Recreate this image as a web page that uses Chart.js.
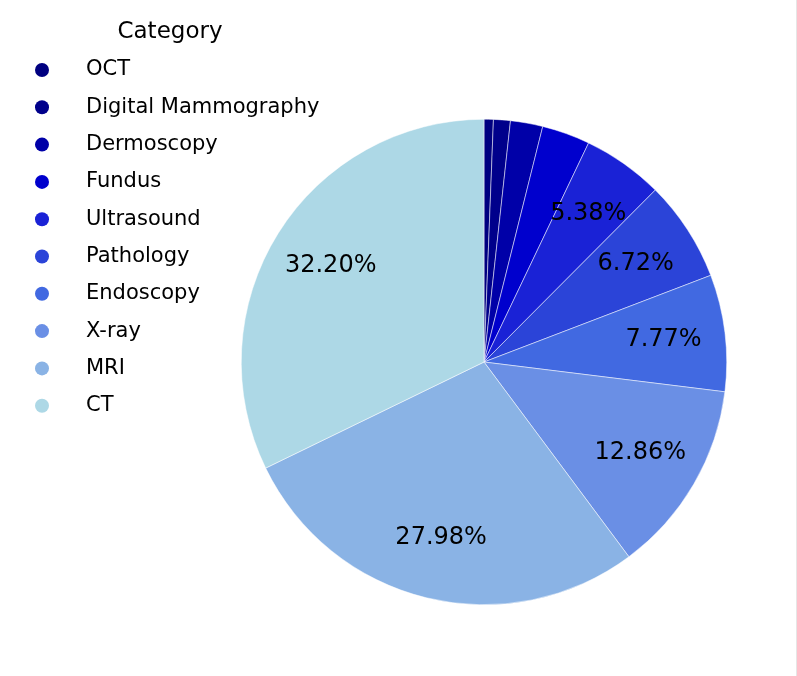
<!DOCTYPE html>
<html>
<head>
<meta charset="utf-8">
<script src="https://cdn.jsdelivr.net/npm/chart.js@4.4.1/dist/chart.umd.min.js"></script>
<style>
  html, body { margin: 0; padding: 0; background: #ffffff; }
  #wrap { position: relative; width: 797px; height: 676px; }
</style>
</head>
<body>
<div id="wrap"><canvas id="c" width="797" height="676"></canvas></div>
<script>
const categories = ["OCT", "Digital Mammography", "Dermoscopy", "Fundus", "Ultrasound", "Pathology", "Endoscopy", "X-ray", "MRI", "CT"];
const shares = [0.62, 1.12, 2.15, 3.20, 5.38, 6.72, 7.77, 12.86, 27.98, 32.20];
const sliceColors = ["#000080", "#00008B", "#0000A8", "#0000CD", "#1A22D6", "#2B44D8", "#4169E1", "#6A8FE5", "#8AB3E5", "#ADD8E6"];
const legendTitle = "Category";
const labelThreshold = 5;

const FONT = '"Comic Sans MS", "DejaVu Sans", sans-serif';

const pctLabels = {
  id: 'pctLabels',
  afterDatasetsDraw(chart) {
    const ctx = chart.ctx;
    const meta = chart.getDatasetMeta(0);
    const data = chart.data.datasets[0].data;
    ctx.save();
    ctx.font = '24px ' + FONT;
    ctx.fillStyle = '#000';
    ctx.textAlign = 'center';
    ctx.textBaseline = 'middle';
    meta.data.forEach((arc, i) => {
      if (data[i] < labelThreshold) return;
      const p = arc.getProps(['x', 'y', 'startAngle', 'endAngle', 'outerRadius'], true);
      const mid = (p.startAngle + p.endAngle) / 2;
      const r = p.outerRadius * 0.745;
      ctx.fillText(data[i].toFixed(2) + '%', p.x + Math.cos(mid) * r, p.y + Math.sin(mid) * r);
    });
    ctx.restore();
  }
};

const sideLegend = {
  id: 'sideLegend',
  afterDraw(chart) {
    const ctx = chart.ctx;
    const ds = chart.data.datasets[0];
    ctx.save();
    ctx.fillStyle = '#000';
    ctx.textBaseline = 'middle';
    ctx.font = '23px ' + FONT;
    ctx.textAlign = 'center';
    ctx.fillText(legendTitle, 170, 32);
    ctx.font = '21px ' + FONT;
    ctx.textAlign = 'left';
    chart.data.labels.forEach((lab, i) => {
      const y = 70 + i * 37.3;
      ctx.beginPath();
      ctx.arc(42, y, 7, 0, Math.PI * 2);
      ctx.fillStyle = ds.backgroundColor[i];
      ctx.fill();
      ctx.fillStyle = '#000';
      ctx.fillText(lab, 86, y);
    });
    ctx.strokeStyle = '#e6e6e6';
    ctx.lineWidth = 1;
    ctx.beginPath();
    ctx.moveTo(796.5, 0);
    ctx.lineTo(796.5, 676);
    ctx.stroke();
    ctx.restore();
  }
};

new Chart(document.getElementById('c'), {
  type: 'pie',
  data: {
    labels: categories,
    datasets: [{
      data: shares,
      backgroundColor: sliceColors,
      borderColor: '#ffffff',
      borderWidth: 0.5
    }]
  },
  options: {
    responsive: false,
    animation: false,
    rotation: 0,
    layout: { padding: { top: 119, bottom: 71, left: 180, right: 9 } },
    plugins: {
      legend: { display: false },
      tooltip: { enabled: false },
      title: { display: false }
    }
  },
  plugins: [pctLabels, sideLegend]
});
</script>
</body>
</html>
